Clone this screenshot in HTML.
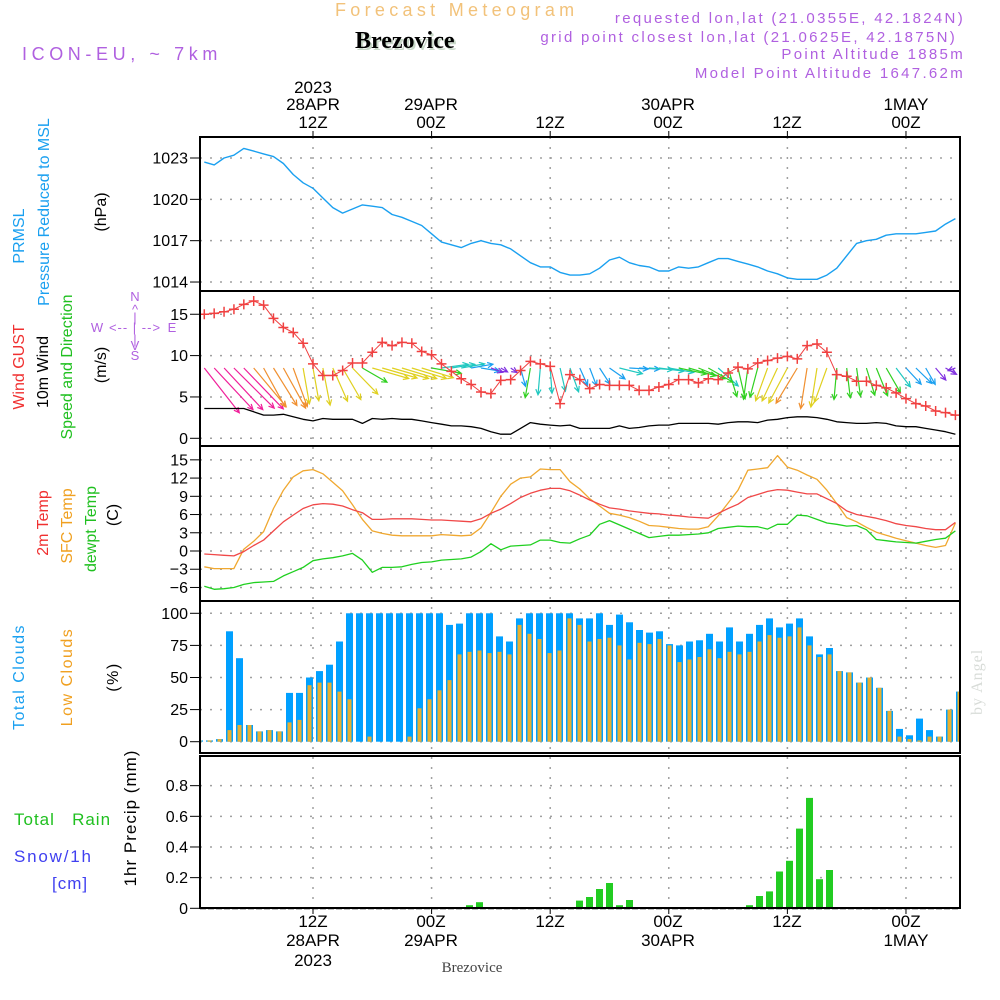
<!DOCTYPE html>
<html><head><meta charset="utf-8"><title>Forecast Meteogram Brezovice</title>
<style>
html,body{margin:0;padding:0;background:#fff;}
svg{display:block;font-family:"Liberation Sans",sans-serif;}
</style></head>
<body>
<svg id="chart" xmlns="http://www.w3.org/2000/svg" width="1000" height="1000" viewBox="0 0 1000 1000">
<rect x="0" y="0" width="1000" height="1000" fill="#fff"/>
<g id="grid"></g>
<g id="marks"></g>
<g id="frame"></g>
<g id="labels">
  <text x="335" y="16" font-size="18" fill="#f2c27a" letter-spacing="4.3">Forecast Meteogram</text>
  <text x="357" y="50" font-size="24" font-weight="bold" font-family="Liberation Serif, serif" fill="#c8d8c8">Brezovice</text>
  <text x="355" y="48" font-size="24" font-weight="bold" font-family="Liberation Serif, serif" fill="#000">Brezovice</text>
  <text x="22" y="60" font-size="18" fill="#b060e0" letter-spacing="4.6">ICON-EU, ~ 7km</text>
  <g font-size="15" fill="#b060e0" text-anchor="end" letter-spacing="2.3">
    <text x="965" y="23">requested lon,lat (21.0355E, 42.1824N)</text>
    <text x="957" y="42">grid point closest lon,lat (21.0625E, 42.1875N)</text>
    <text x="965" y="59">Point Altitude 1885m</text>
    <text x="965" y="78">Model Point Altitude 1647.62m</text>
  </g>
  <g font-size="17" fill="#000" text-anchor="middle">
    <text x="313" y="93">2023</text><text x="313" y="110">28APR</text><text x="313" y="128">12Z</text>
    <text x="431" y="110">29APR</text><text x="431" y="128">00Z</text>
    <text x="550" y="128">12Z</text>
    <text x="668" y="110">30APR</text><text x="668" y="128">00Z</text>
    <text x="787" y="128">12Z</text>
    <text x="906" y="110">1MAY</text><text x="906" y="128">00Z</text>
  </g>
  <g font-size="17" fill="#000" text-anchor="middle">
    <text x="313" y="927">12Z</text><text x="313" y="946">28APR</text><text x="313" y="966">2023</text>
    <text x="431" y="927">00Z</text><text x="431" y="946">29APR</text>
    <text x="550" y="927">12Z</text>
    <text x="668" y="927">00Z</text><text x="668" y="946">30APR</text>
    <text x="787" y="927">12Z</text>
    <text x="906" y="927">00Z</text><text x="906" y="946">1MAY</text>
  </g>
  <text x="472" y="972" font-size="15" text-anchor="middle" font-family="Liberation Serif, serif" fill="#444">Brezovice</text>
  <text transform="translate(982,715) rotate(-90)" font-size="16" font-family="Liberation Serif, serif" fill="#d8dcd8" letter-spacing="1">by Angel</text>

  <g font-size="16">
    <text transform="translate(24,236) rotate(-90)" fill="#1aa0f0" text-anchor="middle">PRMSL</text>
    <text transform="translate(49,212) rotate(-90)" fill="#1aa0f0" text-anchor="middle">Pressure Reduced to MSL</text>
    <text transform="translate(106,212) rotate(-90)" fill="#000" text-anchor="middle">(hPa)</text>
  </g>
  <g font-size="16">
    <text transform="translate(24,367) rotate(-90)" fill="#f03030" text-anchor="middle">Wind GUST</text>
    <text transform="translate(48,372) rotate(-90)" fill="#000" text-anchor="middle">10m Wind</text>
    <text transform="translate(72,367) rotate(-90)" fill="#20c020" text-anchor="middle">Speed and Direction</text>
    <text transform="translate(106,365) rotate(-90)" fill="#000" text-anchor="middle">(m/s)</text>
  </g>
  <g font-size="13" fill="#b060e0" text-anchor="middle">
    <text x="135" y="301">N</text><text x="135" y="314">^</text><text x="135" y="322">|</text>
    <text x="97" y="332">W</text><text x="135" y="332" letter-spacing="1">&lt;-- | --&gt;</text><text x="172" y="332">E</text>
    <text x="135" y="344">|</text><text x="135" y="350">V</text><text x="135" y="360">S</text>
  </g>
  <g font-size="16">
    <text transform="translate(48,523) rotate(-90)" fill="#f03030" text-anchor="middle">2m Temp</text>
    <text transform="translate(72,526) rotate(-90)" fill="#f0a020" text-anchor="middle">SFC Temp</text>
    <text transform="translate(96,529) rotate(-90)" fill="#20c020" text-anchor="middle">dewpt Temp</text>
    <text transform="translate(118,515) rotate(-90)" fill="#000" text-anchor="middle">(C)</text>
  </g>
  <g font-size="16" letter-spacing="1.5">
    <text transform="translate(24,677) rotate(-90)" fill="#1aa0f0" text-anchor="middle">Total Clouds</text>
    <text transform="translate(72,677) rotate(-90)" fill="#f0a020" text-anchor="middle">Low Clouds</text>
    <text transform="translate(118,677) rotate(-90)" fill="#000" text-anchor="middle">(%)</text>
  </g>
  <g font-size="17">
    <text x="14" y="825" fill="#20c020" letter-spacing="1">Total&#160;&#160;&#160;Rain</text>
    <text x="14" y="862" fill="#4040f0" letter-spacing="1.8">Snow/1h</text>
    <text x="52" y="889" fill="#4040f0" letter-spacing="1">[cm]</text>
    <text transform="translate(136,818) rotate(-90)" fill="#000" text-anchor="middle" letter-spacing="1">1hr Precip (mm)</text>
  </g>
</g>
<g id="ticks"></g>
</svg>
<script>
// ---------- data ----------
const hours = [];
for (let i = 1; i <= 77; i++) hours.push(i);
const pressure = [1022.7,1022.5,1023.0,1023.2,1023.7,1023.5,1023.3,1023.1,1022.6,1021.8,1021.2,1020.8,1020.1,1019.4,1019.0,1019.3,1019.6,1019.5,1019.4,1018.9,1018.7,1018.4,1018.1,1017.5,1016.9,1016.7,1016.5,1016.8,1017.0,1016.8,1016.7,1016.4,1015.9,1015.4,1015.1,1015.1,1014.7,1014.5,1014.5,1014.6,1015.0,1015.6,1015.8,1015.4,1015.2,1015.1,1014.8,1014.8,1015.1,1015.0,1015.1,1015.4,1015.7,1015.7,1015.5,1015.3,1015.1,1014.8,1014.6,1014.3,1014.2,1014.2,1014.2,1014.5,1015.0,1015.9,1016.8,1017.0,1017.1,1017.4,1017.5,1017.5,1017.5,1017.6,1017.7,1018.2,1018.6];
const gust = [15.0,15.1,15.3,15.6,16.2,16.6,16.1,14.5,13.4,12.8,11.5,9.0,7.6,7.6,8.2,9.1,9.1,10.4,11.6,11.2,11.6,11.5,10.5,10.1,9.0,8.1,7.2,6.5,5.6,5.4,7.0,7.1,8.2,9.3,9.0,8.7,4.2,7.7,7.1,6.0,6.5,6.4,6.4,6.4,5.8,5.8,6.2,6.5,7.1,7.1,6.7,7.2,7.1,7.9,8.6,8.4,9.1,9.4,9.7,9.9,9.6,11.2,11.4,10.4,7.7,7.5,6.9,6.9,6.4,6.1,5.5,4.8,4.2,3.9,3.3,3.1,2.8];
const windSpeed = [3.6,3.6,3.6,3.6,3.6,3.2,2.8,2.8,2.9,2.6,2.3,2.1,2.4,2.3,2.3,2.3,1.8,2.4,2.3,2.4,2.3,2.3,2.1,1.9,1.7,1.5,1.5,1.4,1.2,0.8,0.5,0.5,1.2,1.9,1.7,1.6,1.5,1.6,1.2,1.2,1.2,1.2,1.5,1.2,1.3,1.5,1.6,1.6,1.8,1.8,1.8,1.8,1.7,1.9,2.0,2.0,1.9,2.2,2.3,2.5,2.6,2.6,2.5,2.3,2.0,1.9,1.8,1.8,1.9,1.8,1.5,1.4,1.4,1.2,1.0,0.8,0.5];
const windToward = [142,137,137,135,136,140,151,148,151,160,170,170,169,156,150,136,120,106,106,106,107,107,107,100,82,81,80,80,99,110,120,125,165,190,185,176,167,160,156,159,147,125,104,93,93,94,97,100,102,106,112,120,132,163,167,188,195,200,205,208,211,189,189,200,185,173,172,163,158,150,143,137,134,150,140,120,250];
const temp2m = [-0.5,-0.6,-0.7,-0.8,-0.1,0.9,1.8,3.3,4.8,5.9,7.0,7.6,7.8,7.7,7.4,6.8,6.3,5.2,5.2,5.3,5.3,5.3,5.2,5.1,5.1,5.0,4.9,4.8,5.3,6.2,6.9,7.8,8.8,9.5,10.0,10.3,10.3,9.9,9.2,8.4,7.7,7.1,6.9,6.6,6.4,6.2,6.1,5.9,5.8,5.6,5.5,5.4,6.2,7.0,7.7,8.8,9.3,9.8,10.1,10.0,9.7,9.4,9.4,8.6,7.8,6.6,6.0,5.7,5.4,5.0,4.5,4.2,4.0,3.7,3.5,3.5,4.7];
const tempSfc = [-2.6,-2.9,-2.9,-2.9,0.3,1.6,3.2,7.0,10.0,12.2,13.2,13.4,12.7,11.3,9.9,7.6,5.2,3.3,2.9,2.6,2.5,2.5,2.5,2.5,2.7,2.6,2.5,2.6,3.8,6.3,9.0,11.0,12.0,12.2,13.5,13.4,13.4,11.4,10.2,8.6,7.4,6.2,5.9,5.5,4.9,4.2,4.1,3.9,3.7,3.6,3.6,4.0,5.8,7.9,10.0,13.3,13.5,13.7,15.7,13.8,13.3,12.5,11.8,10.0,7.8,5.5,4.8,3.9,3.1,2.6,2.1,1.7,1.3,0.9,0.6,0.9,4.6];
const dewpt = [-5.8,-6.3,-6.2,-6.0,-5.5,-5.2,-5.1,-5.0,-4.1,-3.4,-2.7,-1.6,-1.3,-1.1,-0.8,-0.4,-1.5,-3.5,-2.7,-2.7,-2.6,-2.2,-1.9,-1.8,-1.5,-1.4,-1.3,-1.0,-0.1,1.2,0.2,0.8,0.9,1.0,1.8,1.8,1.4,1.3,2.0,2.6,4.4,5.0,4.3,3.6,2.9,2.2,2.4,2.6,2.6,2.7,2.8,3.0,3.7,3.9,4.1,4.0,4.0,3.6,4.4,4.4,5.9,5.8,5.2,4.6,4.4,4.1,4.2,3.5,1.9,1.7,1.5,1.4,1.3,1.6,1.9,2.1,3.3];
const totalClouds = [1,1,2,86,65,13,8,9,8,38,38,50,55,60,78,100,100,100,100,100,100,100,100,100,100,91,92,100,100,100,82,78,96,100,100,100,100,100,96,96,100,91,99,93,87,85,86,76,75,78,79,84,78,89,78,84,91,96,89,92,96,82,68,73,55,54,46,50,42,24,10,5,18,9,4,25,39];
const lowClouds = [1,1,2,9,13,13,8,9,8,15,17,44,46,46,39,33,0,4,0,0,0,4,26,33,40,48,68,70,71,69,70,68,91,84,80,69,71,96,91,78,80,81,75,64,77,76,80,75,62,64,66,72,65,70,68,70,78,83,81,82,89,75,66,68,55,54,46,50,42,24,4,2,1,4,4,25,39];
const precipHours = [28,29,39,40,41,42,43,44,56,57,58,59,60,61,62,63,64];
const precip = [0.02,0.04,0.05,0.074,0.126,0.165,0.02,0.054,0.02,0.08,0.11,0.24,0.31,0.52,0.72,0.19,0.25];
const pressureTicks = [1014,1017,1020,1023];
const windTicks = [0,5,10,15];
const tempTicks = [-6,-3,0,3,6,9,12,15];
const cloudTicks = [0,25,50,75,100];
const precipTicks = [0,0.2,0.4,0.6,0.8];
const timeGridHours = [12,24,36,48,60,72];

// ---------- scales ----------
const X0 = 200, X1 = 960;
function xh(h){ return 313 + (h - 12) * 9.883; }
function xb(h){ return 309.5 + (h - 12) * 10; }
function yP(v){ return 158 + (1023 - v) * 13.78; }
function yW(v){ return 438.3 - v * 8.27; }
function yT(v){ return 551 - v * 6.077; }
function yC(v){ return 741.7 - v * 1.284; }
function yR(v){ return 908.3 - v * 153.3; }
const panels = [[137,291],[291,446],[446,601],[601,753],[756,908]];

const NS = 'http://www.w3.org/2000/svg';
function el(tag, attrs, parent){
  const e = document.createElementNS(NS, tag);
  for (const k in attrs) e.setAttribute(k, attrs[k]);
  parent.appendChild(e);
  return e;
}
const grid = document.getElementById('grid');
const marks = document.getElementById('marks');
const frame = document.getElementById('frame');
const ticks = document.getElementById('ticks');

// ---------- grid ----------
function hgrid(vals, yf){
  vals.forEach(v => {
    const g = el('line', {x1:X0, x2:X1, y1:yf(v), y2:yf(v), stroke:'#a0a0a0', 'stroke-width':1.5, 'stroke-dasharray':'2,8'}, grid);
    
    
  });
}
hgrid(pressureTicks, yP); hgrid(windTicks, yW); hgrid(tempTicks, yT); hgrid(cloudTicks, yC); hgrid(precipTicks.slice(1), yR);
timeGridHours.forEach(h => {
  const x = xh(h);
  const g = el('line', {x1:x, x2:x, y1:137, y2:908, stroke:'#a0a0a0', 'stroke-width':1.5, 'stroke-dasharray':'2,8'}, grid);
  
  
  const t1 = el('line', {x1:x, x2:x, y1:131, y2:137, stroke:'#000', 'stroke-width':1}, frame);
  
  
  const t2 = el('line', {x1:x, x2:x, y1:908, y2:914, stroke:'#000', 'stroke-width':1}, frame);
  
  
});

// ---------- y ticks ----------
function yticks(vals, yf, fmt, name){
  vals.forEach(v => {
    const y = yf(v);
    const tl = el('line', {x1:190, x2:200, y1:y, y2:y, stroke:'#000', 'stroke-width':1}, ticks);
    
    
    const t = el('text', {x:188, y:y + 5.5, 'font-size':16, 'text-anchor':'end', fill:'#000'}, ticks);
    t.textContent = fmt(v);
    
    
  });
}
yticks(pressureTicks, yP, v => String(v), 'pressure');
yticks(windTicks, yW, v => String(v), 'wind');
yticks(tempTicks, yT, v => (v < 0 ? '\u2212' + Math.abs(v) : String(v)), 'temp');
yticks(cloudTicks, yC, v => String(v), 'cloud');
yticks(precipTicks, yR, v => (v === 0 ? '0' : v.toFixed(1)), 'precip');

// ---------- series helpers ----------
function polyline(vals, yf, color, name, width){
  const pts = vals.map((v, i) => xh(hours[i]).toFixed(1) + ',' + yf(v).toFixed(1)).join(' ');
  const p = el('polyline', {points:pts, fill:'none', stroke:color, 'stroke-width':width || 1.3, 'stroke-linejoin':'round'}, marks);
  
  
  return p;
}

// pressure
polyline(pressure, yP, '#1aa0f0', 'pressure-line', 1.4);

// clip for panels
const defs = el('defs', {}, document.getElementById('chart'));
const cp = el('clipPath', {id:'plotclip'}, defs);
el('rect', {x:X0, y:137, width:X1 - X0, height:771}, cp);

// wind arrows
function windColor(s){
  if (s >= 3.4) return '#f0209a';
  if (s >= 2.6) return '#f09030';
  if (s >= 2.1) return '#e0d020';
  if (s >= 1.8) return '#30d020';
  if (s >= 1.45) return '#20c8c0';
  if (s >= 1.15) return '#1aa0f0';
  return '#8030e0';
}
const arrowG = el('g', {'clip-path':'url(#plotclip)'}, marks);


windSpeed.forEach((s, i) => {
  const x0 = xh(hours[i]), y0 = 368;
  const L = s * 15.8;
  const b = windToward[i] * Math.PI / 180;
  const dx = L * Math.sin(b), dy = -L * Math.cos(b);
  const x1 = x0 + dx, y1 = y0 + dy;
  const c = windColor(s);
  const ang = Math.atan2(dy, dx);
  const ah = 6;
  const a1x = x1 - ah * Math.cos(ang - 0.45), a1y = y1 - ah * Math.sin(ang - 0.45);
  const a2x = x1 - ah * Math.cos(ang + 0.45), a2y = y1 - ah * Math.sin(ang + 0.45);
  const p = el('path', {d:`M${x0.toFixed(1)},${y0} L${x1.toFixed(1)},${y1.toFixed(1)} M${a1x.toFixed(1)},${a1y.toFixed(1)} L${x1.toFixed(1)},${y1.toFixed(1)} L${a2x.toFixed(1)},${a2y.toFixed(1)}`, fill:'none', stroke:c, 'stroke-width':1.2}, arrowG);
  
  
});

// wind speed & gust
polyline(windSpeed, yW, '#000', 'wind-speed-line', 1.3);
polyline(gust, yW, '#f04040', 'gust-line', 1);
gust.forEach((v, i) => {
  const x = xh(hours[i]), y = yW(v);
  const m = el('path', {d:`M${x-5},${y} H${x+5} M${x},${y-5} V${y+5}`, stroke:'#f04040', 'stroke-width':1.5}, marks);
  
  
});

// temperatures
polyline(tempSfc, yT, '#f0a830', 'sfc-temp-line', 1.3);
polyline(temp2m, yT, '#f04848', 'temp-2m-line', 1.3);
polyline(dewpt, yT, '#20d020', 'dewpoint-line', 1.3);

// clouds
const cloudG = el('g', {'clip-path':'url(#plotclip)'}, marks);


totalClouds.forEach((v, i) => {
  const x = xb(hours[i]);
  const r = el('rect', {x:(x - 3.5).toFixed(1), y:yC(v).toFixed(1), width:7, height:(yC(0) - yC(v)).toFixed(1), fill:'#00a0ff'}, cloudG);
  
  
});
lowClouds.forEach((v, i) => {
  const x = xb(hours[i]);
  const r = el('rect', {x:(x - 2).toFixed(1), y:yC(v).toFixed(1), width:4, height:(yC(0) - yC(v)).toFixed(1), fill:'#e8b030'}, cloudG);
  
  
});

// precip
const baseLine = el('line', {x1:X0, x2:X1, y1:yR(0), y2:yR(0), stroke:'#000', 'stroke-width':2, 'stroke-dasharray':'6,2'}, marks);


precip.forEach((v, i) => {
  const x = xb(precipHours[i]);
  const r = el('rect', {x:(x - 3.5).toFixed(1), y:yR(v).toFixed(1), width:7, height:(yR(0) - yR(v)).toFixed(1), fill:'#22cc22'}, marks);
  
  
});

// ---------- frame ----------
panels.forEach(p => {
  const r = el('rect', {x:X0, y:p[0], width:X1 - X0, height:p[1] - p[0], fill:'none', stroke:'#000', 'stroke-width':2}, frame);
  
  
});
</script>
</body></html>
